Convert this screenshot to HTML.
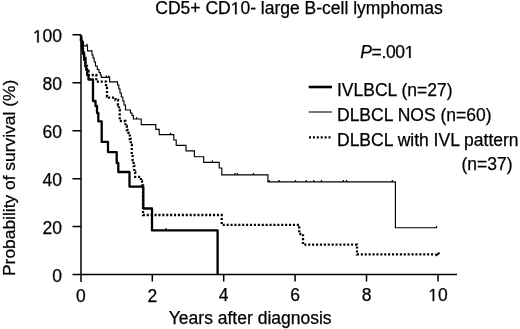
<!DOCTYPE html>
<html><head><meta charset="utf-8"><style>
html,body{margin:0;padding:0;background:#fff;width:520px;height:329px;overflow:hidden}
svg{display:block;filter:grayscale(1) blur(0.3px)}
text{font-family:"Liberation Sans",sans-serif;font-size:17.5px;fill:#000;stroke:#000;stroke-width:0.25px}
</style></head><body>
<svg width="520" height="329" viewBox="0 0 520 329">
<!-- title -->
<text x="155.3" y="14.3">CD5+ CD&#8199;0- large B-cell lymphomas</text>
<!-- y axis label -->
<text transform="translate(15.2,276) rotate(-90)" style="font-size:17.4px">Probability of survival (%)</text>
<!-- x axis label -->
<text x="168.8" y="324.2">Years after diagnosis</text>
<!-- axes -->
<g stroke="#000" stroke-width="1.5" fill="none">
<path d="M81,34.8 V282"/>
<path d="M72.5,274.4 H457"/>
<path d="M72.5,34.8 H81 M72.5,82.8 H81 M72.5,130.7 H81 M72.5,178.7 H81 M72.5,226.6 H81"/>
<path d="M152.3,274.4 V281.5 M223.7,274.4 V281.5 M295.1,274.4 V281.5 M366.5,274.4 V281.5 M438,274.4 V281.5"/>
</g>
<!-- y tick labels -->
<g text-anchor="end">
<text x="62" y="42.4">&#8199;00</text>
<text x="62" y="90.4">80</text>
<text x="62" y="138.3">60</text>
<text x="62" y="186.3">40</text>
<text x="62" y="234.2">20</text>
<text x="62" y="282.2">0</text>
</g>
<!-- x tick labels -->
<g text-anchor="middle">
<text x="80.8" y="301.8">0</text>
<text x="152.3" y="301.8">2</text>
<text x="223.7" y="301">4</text>
<text x="295.1" y="301">6</text>
<text x="366.5" y="301">8</text>
<text x="438" y="301">&#8199;0</text>
</g>
<!-- curves -->
<g fill="none" stroke="#000" stroke-linejoin="miter" stroke-linecap="butt">
<!-- NOS thin -->
<path stroke-width="1.15" d="M81,35 V38 H82 V42 H83.5 V45.8 H87.5 V50.8 H92 V55 H93 V58 H94.2 V62 H95.5 V66 H97.3 V69.5 H99 V72.5 H100.3 V75 H101.3 V77.4 H109.6 V81.8 H117.5 V85 H118.8 V89 H120 V93 H121.3 V97 H122.8 V101 H124 V105 H125.5 V110 H130.5 V113 H132 V115.5 H133.4 V119 H141.2 V124.6 H155.8 V129.4 H159.2 V134.6 H173.8 V140 H176.2 V145.3 H186 V150.8 H194.4 V156.7 H203.7 V162.3 H219.2 V168 H221.8 V174.8 H267.9 V181.9 H395.4 V227.7 H437"/>
<!-- thin censor ticks -->
<path stroke-width="1.3" d="M87,45.5 v-1.8 M106.4,77.4 v-1.8 M109,77.4 v-1.8 M136.6,119 v-1.8 M170.5,134.6 v-1.8 M212.4,162.3 v-1.8 M235,174.8 v-1.8 M237.5,174.8 v-1.8 M253.5,174.8 v-1.8 M269.2,181.9 v-1.8 M279,181.9 v-1.8 M295.5,181.9 v-1.8 M306.3,181.9 v-1.8 M313.8,181.9 v-1.8 M321.5,181.9 v-1.8 M343.4,181.9 v-1.8 M346.6,181.9 v-1.8 M392.3,181.9 v-1.8 M436.5,227.7 v-1.8"/>
<!-- IVLBCL thick -->
<path stroke-width="2.3" stroke-linejoin="round" d="M81,35 V41 H82 V48 H83 V54 H84.2 V60 H85.4 V66 H86.3 V70 H87.2 V75 H88.5 V79.5 H93 V101 H95.5 V106 H97 V113 H98.3 V121.3 H101.7 V141.9 H108 V152.1 H116.7 V163 H118.3 V172 H129.5 V186.6 H143.3 V208.5 H152 V230.4 H217.6 V274.4"/>
<path stroke-width="1.2" d="M166,230.4 v-2.5"/>
<!-- dotted -->
<path stroke-width="2.3" stroke-dasharray="2.1 1.8" d="M81,35 V42 H82.5 V50 H84 V58 H85.5 V66 H87 V71 H88.5 V75 H96.3 V81.6 H106 V88 H107 V96.5 H109 V97.7 H115.5 V100 H118 V105 H119 V110 H119.7 V121 H125.4 V126 H126.8 V130 H128.5 V134 H129.8 V139 H130.8 V145 H131.8 V155 H132.6 V160 H133.6 V166 H134.3 V172 H135.2 V176.8 H140.8 V181 H142 V185.5 H143 V215 H221.7 V224.8 H299.2 V234 H303 V244.6 H357 V254.4 H435.5"/>
<path stroke-width="2" d="M435.6,255.6 L439.6,252.8"/>
</g>
<!-- legend -->
<text x="360.2" y="58.1" letter-spacing="-0.35"><tspan font-style="italic">P</tspan>=.00&#8199;</text>
<g stroke="#000" fill="none">
<path stroke-width="2.6" d="M308.7,87 H332"/>
<path stroke-width="1.15" stroke="#111" d="M308.7,112 H332"/>
<path stroke-width="2.2" stroke-dasharray="2 1.9" d="M309,137.3 H331"/>
</g>
<text x="337" y="95.8">IVLBCL (n=27)</text>
<text x="337" y="120.8">DLBCL NOS (n=60)</text>
<text x="337" y="145.7">DLBCL with IVL pattern</text>
<text x="461.5" y="169.9">(n=37)</text>
<!-- footless 1 glyphs -->
<g fill="#000" stroke="#000" stroke-width="0.25" vector-effect="non-scaling-stroke">
<path class="one" vector-effect="non-scaling-stroke" transform="translate(230.66,14.3) scale(0.0085449,-0.0085449)" d="M515 0 L515 1237 L197 1010 L197 1180 L530 1409 L696 1409 L696 0 Z"/>
<path class="one" vector-effect="non-scaling-stroke" transform="translate(32.80,42.4) scale(0.0085449,-0.0085449)" d="M515 0 L515 1237 L197 1010 L197 1180 L530 1409 L696 1409 L696 0 Z"/>
<path class="one" vector-effect="non-scaling-stroke" transform="translate(428.27,301) scale(0.0085449,-0.0085449)" d="M515 0 L515 1237 L197 1010 L197 1180 L530 1409 L696 1409 L696 0 Z"/>
<path class="one" vector-effect="non-scaling-stroke" transform="translate(404.67,58.1) scale(0.0085449,-0.0085449)" d="M515 0 L515 1237 L197 1010 L197 1180 L530 1409 L696 1409 L696 0 Z"/>
</g>
</svg>
</body></html>
